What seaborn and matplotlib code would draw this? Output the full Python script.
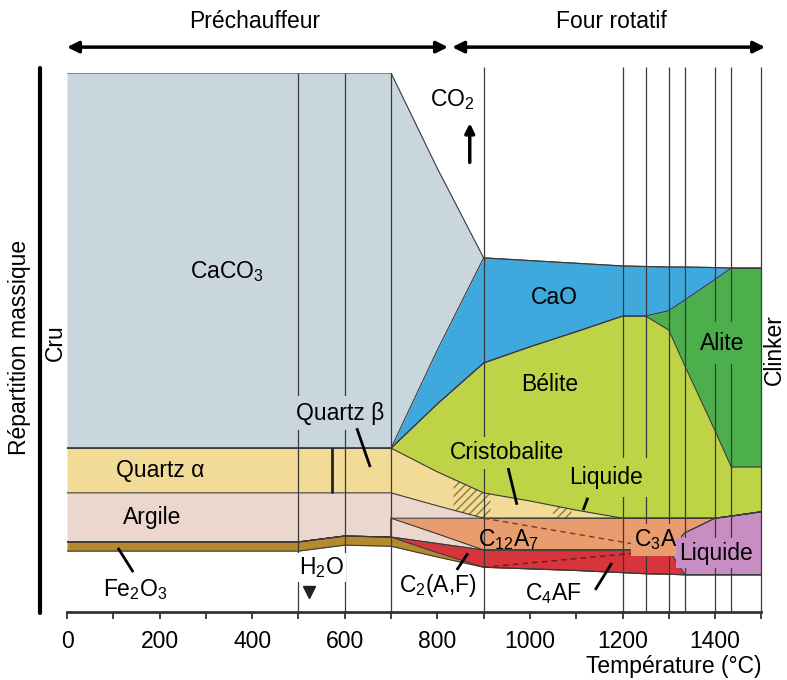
"""Répartition massique des phases du cru au clinker en fonction de la température."""

import matplotlib

matplotlib.use("Agg")
import matplotlib.pyplot as plt
import numpy as np
import seaborn as sns
from matplotlib.lines import Line2D

# Temperature grid (°C) - 700 appears twice: the clay splits there
temperature = [0, 500, 600, 700, 700, 800, 900, 1000, 1100, 1200, 1250, 1300, 1335, 1400, 1435, 1500]

# Phase amounts, stacked from the bottom (% of drawing height)
gap = [11.3, 11.3, 12.4, 12.2, 12.2, 10.2, 8.3, 8.0, 7.7, 7.3, 7.1, 7.0, 6.9, 6.9, 6.9, 6.9]
fe2o3 = [1.7, 1.7, 1.7, 1.7, 1.7, 0.8, 0, 0, 0, 0, 0, 0, 0, 0, 0, 0]
c4af = [0, 0, 0, 0, 0, 1.7, 3.2, 3.5, 3.8, 4.2, 4.4, 4.5, 0, 0, 0, 0]
liquide = [0, 0, 0, 0, 0, 0, 0, 0, 0, 0, 0, 0, 7.8, 10.5, 10.9, 11.7]
argile_bas = [0, 0, 0, 0, 3.5, 1.8, 0, 0, 0, 0, 0, 0, 0, 0, 0, 0]
aluminates = [0, 0, 0, 0, 0, 2.9, 5.9, 5.9, 5.9, 5.9, 5.9, 5.9, 2.7, 0, 0, 0]
argile_haut = [9.1, 9.1, 8.0, 8.2, 4.7, 2.3, 0, 0, 0, 0, 0, 0, 0, 0, 0, 0]
quartz = [8.3, 8.3, 8.3, 8.3, 8.3, 6.3, 4.7, 3.2, 1.5, 0, 0, 0, 0, 0, 0, 0]
belite = [0, 0, 0, 0, 0, 12.6, 24.1, 28.6, 33.1, 37.5, 37.5, 34.9, 28.2, 16.2, 9.1, 8.3]
alite = [0, 0, 0, 0, 0, 0, 0, 0, 0, 0, 0, 3.6, 12.3, 28.1, 36.9, 36.9]
cao = [0, 0, 0, 0, 0, 10.0, 19.5, 16.0, 12.7, 9.3, 9.2, 8.1, 6.1, 2.2, 0, 0]
caco3 = [69.6, 69.6, 69.6, 69.6, 69.6, 33.7, 0, 0, 0, 0, 0, 0, 0, 0, 0, 0]

# C3A separation (dashed) lines
c3a_temperature = [900, 1300]
c3a_upper = [17.4, 11.5]
c3a_lower = [8.3, 11.5]

# Transformation temperatures (vertical lines)
grid_low = [500, 600, 700]
grid_high = [900, 1200, 1250, 1300, 1335, 1400, 1435, 1500]
quartz_transition = 573
hatch_ranges = [(835, 915), (1050, 1090)]

COLORS = {
    "gap": None,
    "fe2o3": "#b58a2e",
    "c4af": "#d7343c",
    "liquide": "#c88dc2",
    "argile_bas": "#ecd7ce",
    "aluminates": "#e99c6e",
    "argile_haut": "#ecd7ce",
    "quartz": "#f1db97",
    "belite": "#bfd347",
    "alite": "#4caf4c",
    "cao": "#3fa8dc",
    "caco3": "#c9d6de",
}
LINE = "#3a3a3a"
FS = 16.5

sns.set_theme(style="ticks")
plt.rcParams["font.family"] = ["Liberation Sans", "DejaVu Sans"]
plt.rcParams["mathtext.fontset"] = "custom"
plt.rcParams["mathtext.rm"] = "Liberation Sans"
plt.rcParams["mathtext.it"] = "Liberation Sans:italic"
plt.rcParams["mathtext.bf"] = "Liberation Sans:bold"
plt.rcParams["hatch.linewidth"] = 1.0
plt.rcParams["text.color"] = "black"
plt.rcParams["axes.labelcolor"] = "black"
plt.rcParams["xtick.labelcolor"] = "black"

fig = plt.figure(figsize=(7.87, 6.8), dpi=100)
ax = fig.add_axes([67 / 787, 68 / 680, 694.4 / 787, 539 / 680])

layers = [gap, fe2o3, c4af, liquide, argile_bas, aluminates, argile_haut, quartz, belite, alite, cao, caco3]
names = list(COLORS.keys())
tops = np.cumsum(np.array(layers, dtype=float), axis=0)
bottoms = np.vstack([np.zeros(len(temperature)), tops[:-1]])

for name, lo, hi in zip(names, bottoms, tops):
    if COLORS[name] is None:
        continue
    ax.fill_between(temperature, lo, hi, color=COLORS[name], lw=0, zorder=1)

# hatched transformation zones in the quartz / cristobalite band
q_idx = names.index("quartz")
for t0, t1 in hatch_ranges:
    t = np.linspace(t0, t1, 30)
    lo = np.interp(t, temperature, bottoms[q_idx])
    hi = np.interp(t, temperature, tops[q_idx])
    ax.fill_between(t, lo, hi, facecolor="none", edgecolor="#8c7a3c", hatch="////", lw=0, zorder=1.5)

# vertical transformation lines
ax.vlines(grid_low, 0, 100, color=LINE, lw=0.9, zorder=2)
ax.vlines(grid_high, 0, 101.2, color=LINE, lw=0.9, zorder=2, clip_on=False)

# phase boundaries
for hi in tops:
    ax.plot(temperature, hi, color=LINE, lw=0.8, zorder=3)

# quartz alpha -> beta
qz_lo = np.interp(quartz_transition, temperature, bottoms[q_idx])
qz_hi = np.interp(quartz_transition, temperature, tops[q_idx])
ax.vlines(quartz_transition, qz_lo, qz_hi, color="#222222", lw=2, zorder=3)

sns.lineplot(x=c3a_temperature, y=c3a_upper, ax=ax, color="#7a3a20", lw=1, linestyle=(0, (4, 3)), zorder=3)
sns.lineplot(x=c3a_temperature, y=c3a_lower, ax=ax, color="#6a1a1a", lw=1, linestyle=(0, (4, 3)), zorder=3)


def label(x, y, s, bg=None, pad=0.15):
    kw = {}
    if bg is not None:
        kw["bbox"] = dict(boxstyle=f"square,pad={pad}", fc=bg, ec="none")
    ax.text(x, y, s, ha="center", va="center", fontsize=FS, color="black", zorder=5, **kw)


def pointer(x0, y0, x1, y1):
    ax.plot([x0, x1], [y0, y1], color="black", lw=2, zorder=6, solid_capstyle="butt")


label(346, 63.1, "CaCO$_3$")
label(590, 36.9, "Quartz β", bg=COLORS["caco3"], pad=0.25)
pointer(626, 34.1, 655, 26.9)
label(201, 26.3, "Quartz α")
label(184, 17.6, "Argile")
label(147, 4.1, "Fe$_2$O$_3$")
pointer(110, 11.9, 143, 7.4)
label(550, 8.3, "H$_2$O", bg="white", pad=0.08)
ax.plot([523], [3.7], marker="v", color="#222222", markersize=8, zorder=6)
label(801, 5.0, "C$_2$(A,F)", bg="white", pad=0.1)
pointer(842, 7.8, 866, 10.9)
label(953, 13.4, "C$_{12}$A$_7$")
label(1052, 58.3, "CaO")
label(1043, 42.3, "Bélite")
label(950, 29.5, "Cristobalite", bg=COLORS["belite"], pad=0.2)
pointer(953, 26.7, 972, 19.9)
label(1164, 24.9, "Liquide", bg=COLORS["belite"], pad=0.35)
pointer(1125, 21.2, 1115, 18.9)
label(1272, 13.4, "C$_3$A", bg=COLORS["aluminates"], pad=0.15)
label(1402, 10.9, "Liquide", bg=COLORS["liquide"], pad=0.15)
label(1050, 3.5, "C$_4$AF", bg="white", pad=0.15)
pointer(1141, 4.1, 1177, 9.1)
label(1415, 49.9, "Alite", bg=COLORS["alite"], pad=0.4)

# CO2 release
ax.text(832, 95.0, "CO$_2$", ha="center", va="center", fontsize=FS, zorder=6)
ax.annotate("", xy=(870, 91.2), xytext=(870, 82.9),
            arrowprops=dict(arrowstyle="-|>", color="black", lw=2.5, mutation_scale=14), zorder=6)

# process zones
arrow_kw = dict(arrowstyle="<|-|>", color="black", lw=2.5, mutation_scale=17, shrinkA=0, shrinkB=0)
ax.annotate("", xy=(0, 104.8), xytext=(823, 104.8), arrowprops=arrow_kw, annotation_clip=False)
ax.annotate("", xy=(832, 104.8), xytext=(1508, 104.8), arrowprops=arrow_kw, annotation_clip=False)
ax.text(406, 109.5, "Préchauffeur", ha="center", va="center", fontsize=FS, clip_on=False)
ax.text(1177, 109.5, "Four rotatif", ha="center", va="center", fontsize=FS, clip_on=False)

# axes
ax.set_xlim(0, 1500)
ax.set_ylim(0, 100)
ax.set_xticks(range(0, 1401, 200))
ax.set_xticks(range(100, 1501, 100), minor=True)
ax.set_yticks([])
ax.tick_params(axis="x", which="both", direction="out", length=5, width=1.3,
               color="#333333", pad=8, labelsize=FS, labelcolor="black")
for side in ["left", "right", "top"]:
    ax.spines[side].set_visible(False)
ax.spines["bottom"].set_linewidth(2)
ax.spines["bottom"].set_color("#333333")
ax.set_xlabel("")
ax.set_ylabel("")
ax.set_facecolor("white")

# x label placed under the right end of the axis
fig.text(762 / 787, 1 - 667 / 680, "Température (°C)", ha="right", va="center", fontsize=FS)

# left mass bar and side labels
fig.add_artist(Line2D([40 / 787, 40 / 787], [1 - 68 / 680, 1 - 613 / 680], color="black", lw=3))
fig.text(20 / 787, 1 - 347 / 680, "Répartition massique", rotation=90, ha="center", va="center", fontsize=FS)
fig.text(55 / 787, 1 - 343 / 680, "Cru", rotation=90, ha="center", va="center", fontsize=FS)
fig.text(786 / 787, 1 - 350 / 680, "Clinker", rotation=90, ha="right", va="center", fontsize=FS)

fig.savefig("out.png", dpi=100)
